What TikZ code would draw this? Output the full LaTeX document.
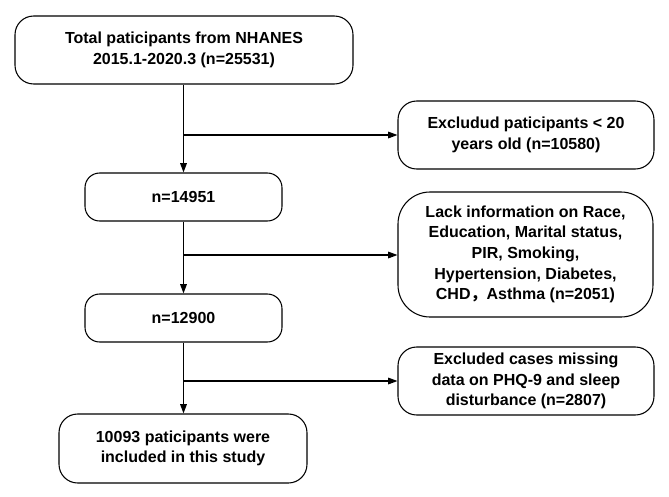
\documentclass[tikz,border=0pt]{standalone}
\usepackage{fontspec}
\setmainfont{Liberation Sans}
\newfontfamily\cjkf{Noto Sans CJK SC}
\usetikzlibrary{arrows.meta}
\begin{document}
\begin{tikzpicture}[x=0.75pt,y=-0.75pt,
  box/.style={draw,line width=0.8pt,rounded corners=14pt,align=center,inner sep=0pt,
    font=\bfseries\fontsize{12}{15.5}\selectfont},
  arr/.style={line width=0.8pt,-{Triangle[length=7pt,width=5pt]}},
  ln/.style={line width=0.8pt}]
\useasboundingbox (0,0) rectangle (669,497);
\node[box,minimum width=338*0.75pt,minimum height=68*0.75pt] (b1) at (184,50) {Total paticipants from NHANES\\2015.1-2020.3 (n=25531)};
\node[box,minimum width=256*0.75pt,minimum height=68*0.75pt] (r1) at (526,135) {Excludud paticipants < 20\\years old (n=10580)};
\node[box,minimum width=197*0.75pt,minimum height=48*0.75pt,rounded corners=11pt] (b2) at (183.5,197) {n=14951};
\node[box,minimum width=255*0.75pt,minimum height=125*0.75pt,rounded corners=24pt] (r2) at (525.5,254.5) {Lack information on Race,\\Education, Marital status,\\PIR, Smoking,\\Hypertension, Diabetes,\\CHD{\cjkf ，}Asthma (n=2051)};
\node[box,minimum width=197*0.75pt,minimum height=48*0.75pt,rounded corners=11pt] (b3) at (183.5,318) {n=12900};
\node[box,minimum width=256*0.75pt,minimum height=68*0.75pt] (r3) at (526,381) {Excluded cases missing\\data on PHQ-9 and sleep\\disturbance (n=2807)};
\node[box,minimum width=248*0.75pt,minimum height=69*0.75pt] (b4) at (183,448.5) {10093 paticipants were\\included in this study};
\coordinate (j1) at (183.5,135);
\coordinate (j2) at (183.5,255);
\coordinate (j3) at (183.5,381);
\draw[arr] (b1.south -| b2.south) -- (b2.north);
\draw[arr] (j1) -- (r1.west);
\draw[arr] (b2.south) -- (b3.north);
\draw[arr] (j2) -- (j2 -| r2.west);
\draw[arr] (b3.south) -- (b3.south |- b4.north);
\draw[arr] (j3) -- (r3.west);
\end{tikzpicture}
\end{document}
